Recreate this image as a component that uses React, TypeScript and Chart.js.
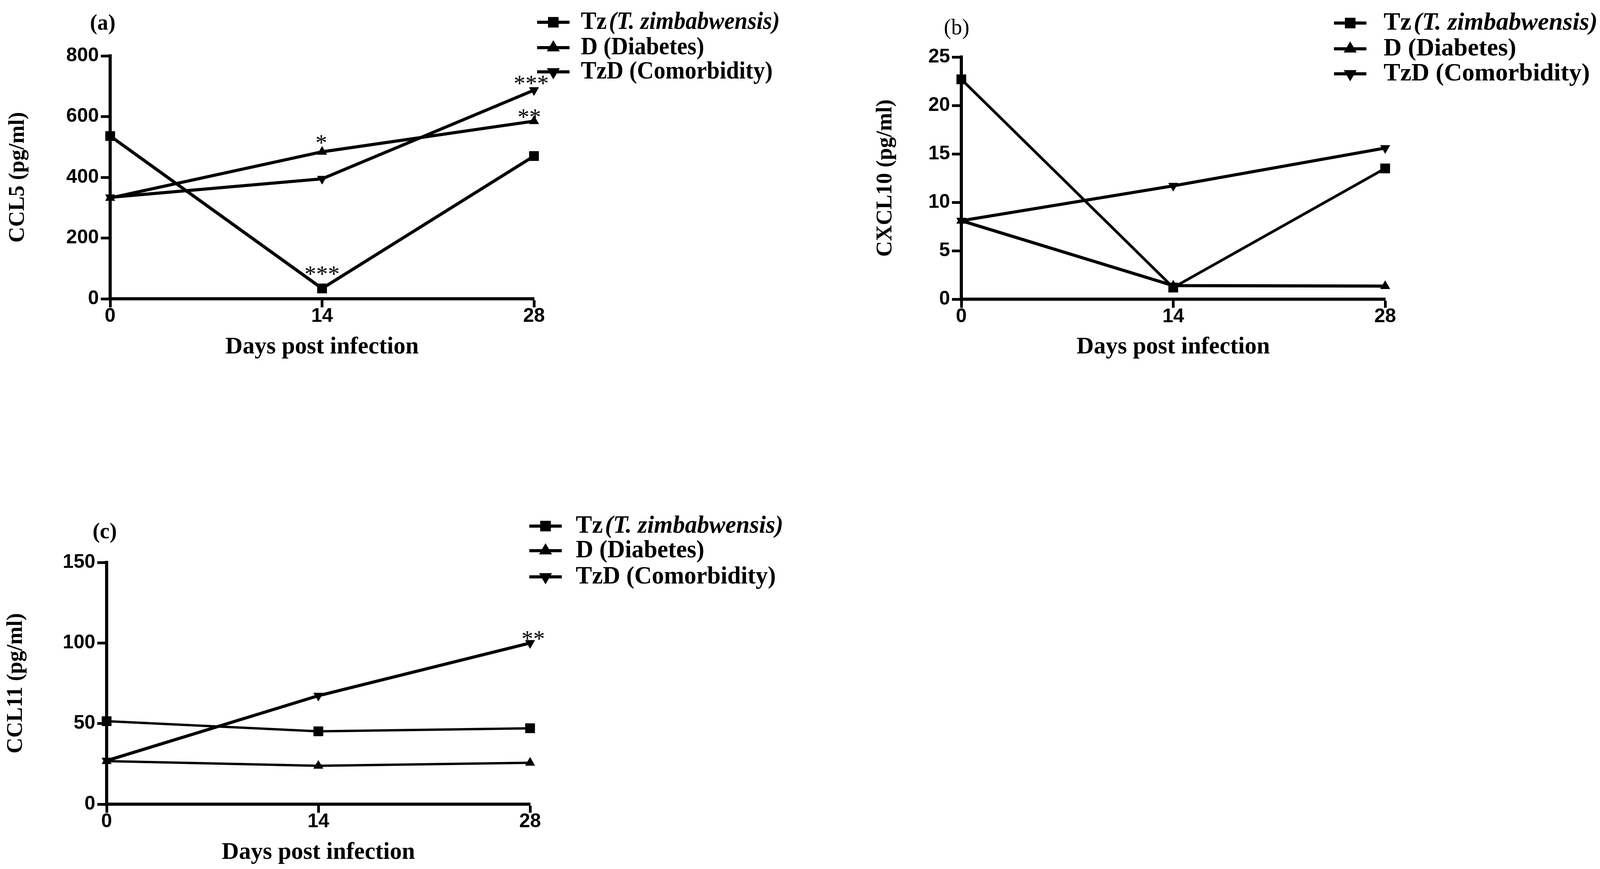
import React, { useEffect, useRef } from 'react';
import { Chart, registerables } from 'chart.js';
import { drawPoint } from 'chart.js/helpers';

Chart.register(...registerables);

// ---------------- data ----------------
const DAYS = [0, 14, 28];
const X_TICKS = [0, 14, 28];
const SERIES_NAMES = ['Tz', 'D', 'TzD'];
const SERIES_DESC = ['(T. zimbabwensis)', '(Diabetes)', '(Comorbidity)'];
const DESC_ITALIC = [true, false, false];
const X_TITLE = 'Days post infection';

const CCL5_TZ = [536, 34, 470];
const CCL5_D = [332, 484, 585];
const CCL5_TZD = [334, 395, 687];
const CCL5_TICKS = [0, 200, 400, 600, 800];

const CXCL10_TZ = [22.7, 1.2, 13.5];
const CXCL10_D = [8.1, 1.4, 1.35];
const CXCL10_TZD = [8.1, 11.7, 15.6];
const CXCL10_TICKS = [0, 5, 10, 15, 20, 25];

const CCL11_TZ = [51.5, 45.2, 47.1];
const CCL11_D = [26.7, 23.8, 25.7];
const CCL11_TZD = [27, 67.3, 100];
const CCL11_TICKS = [0, 50, 100, 150];

// significance marks: series index, point index, text
const CCL5_STARS = [
  { series: 1, index: 1, text: '*' },
  { series: 0, index: 1, text: '***' },
  { series: 2, index: 2, text: '***' },
  { series: 1, index: 2, text: '**' },
];
const CXCL10_STARS: { series: number; index: number; text: string }[] = [];
const CCL11_STARS = [{ series: 2, index: 2, text: '**' }];

// ---------------- styling ----------------
const POINT_STYLES = ['rect', 'triangle', 'triangle'];
const POINT_ROT = [0, 0, 180];
const POINT_RADIUS = [17, 14, 14];
const SERIF = '"Liberation Serif", "Times New Roman", serif';
const SANS = '"Liberation Sans", Arial, sans-serif';

type Panel = {
  id: string;
  left: number; top: number; width: number; height: number;
  area: { left: number; right: number; top: number; bottom: number };
  yTitle: string; yTitleCenter: number;
  series: number[][]; yTicks: number[];
  label: string; labelX: number; labelY: number; labelBold: boolean;
  legLineX: number; legTextX: number; legRows: number[]; legScaleX: number;
  xTitleMid: number;
  lineWidths: number[];
  stars: { series: number; index: number; text: string }[];
  starOffsets: { dx: number; dy: number }[];
};

const PANELS: Panel[] = [
  {
    id: 'a', left: 0, top: 0, width: 2200, height: 1000,
    area: { left: 282, right: 1367, top: 143, bottom: 765 },
    yTitle: 'CCL5 (pg/ml)', yTitleCenter: 47,
    series: [CCL5_TZ, CCL5_D, CCL5_TZD], yTicks: CCL5_TICKS,
    label: '(a)', labelX: 263, labelY: 62, labelBold: true,
    legLineX: 1375, legTextX: 1487, legRows: [57, 122, 184], legScaleX: 0.93,
    xTitleMid: 889,
    lineWidths: [8, 8, 8],
    stars: CCL5_STARS,
    starOffsets: [{ dx: -2, dy: 30 }, { dx: 0, dy: 44 }, { dx: -7, dy: 25 }, { dx: -12, dy: 18 }],
  },
  {
    id: 'b', left: 2200, top: 0, width: 1970, height: 1000,
    area: { left: 261, right: 1346, top: 146, bottom: 766 },
    yTitle: 'CXCL10 (pg/ml)', yTitleCenter: 68,
    series: [CXCL10_TZ, CXCL10_D, CXCL10_TZD], yTicks: CXCL10_TICKS,
    label: '(b)', labelX: 249, labelY: 73, labelBold: false,
    legLineX: 1215, legTextX: 1342, legRows: [59, 125, 189], legScaleX: 1.0,
    xTitleMid: 889,
    lineWidths: [7, 8, 8],
    stars: CXCL10_STARS,
    starOffsets: [],
  },
  {
    id: 'c', left: 0, top: 1200, width: 2200, height: 1025,
    area: { left: 273, right: 1357, top: 240, bottom: 859 },
    yTitle: 'CCL11 (pg/ml)', yTitleCenter: 42,
    series: [CCL11_TZ, CCL11_D, CCL11_TZD], yTicks: CCL11_TICKS,
    label: '(c)', labelX: 268, labelY: 164, labelBold: true,
    legLineX: 1355, legTextX: 1474, legRows: [147, 210, 277], legScaleX: 0.97,
    xTitleMid: 983,
    lineWidths: [6, 6, 8],
    stars: CCL11_STARS,
    starOffsets: [{ dx: 8, dy: 18 }],
  },
];

const decorPlugin = {
  id: 'decor',
  afterDraw(chart: any, _args: any, opts: any) {
    const p: Panel = opts.panel;
    if (!p) return;
    const ctx: CanvasRenderingContext2D = chart.ctx;
    ctx.save();
    ctx.fillStyle = '#000';
    ctx.strokeStyle = '#000';

    // panel label
    ctx.font = `${p.labelBold ? 'bold ' : ''}56px ${SERIF}`;
    ctx.textAlign = 'center';
    ctx.textBaseline = 'middle';
    ctx.fillText(p.label, p.labelX, p.labelY);

    // legend
    const lineLen = 83;
    for (let k = 0; k < 3; k++) {
      const y = p.legRows[k];
      ctx.lineWidth = 8;
      ctx.beginPath();
      ctx.moveTo(p.legLineX, y);
      ctx.lineTo(p.legLineX + lineLen, y);
      ctx.stroke();
      drawPoint(ctx, {
        pointStyle: POINT_STYLES[k] as any,
        rotation: POINT_ROT[k],
        radius: POINT_RADIUS[k] * 0.8,
        borderWidth: 1,
      } as any, p.legLineX + lineLen / 2, y);

      ctx.save();
      ctx.translate(p.legTextX, y);
      ctx.scale(p.legScaleX, 1);
      ctx.textAlign = 'left';
      ctx.textBaseline = 'middle';
      ctx.font = `bold 64px ${SERIF}`;
      ctx.fillText(SERIES_NAMES[k], 0, 0);
      const w = ctx.measureText(SERIES_NAMES[k]).width + (DESC_ITALIC[k] ? 6 : 16);
      ctx.font = `${DESC_ITALIC[k] ? 'italic ' : ''}bold 64px ${SERIF}`;
      ctx.fillText(SERIES_DESC[k], w, 0);
      ctx.restore();
    }

    // significance stars
    ctx.font = `60px ${SERIF}`;
    ctx.textAlign = 'center';
    ctx.textBaseline = 'middle';
    p.stars.forEach((s, i) => {
      const meta = chart.getDatasetMeta(s.series);
      const pt = meta.data[s.index];
      const off = p.starOffsets[i] || { dx: 0, dy: 25 };
      ctx.fillText(s.text, pt.x + off.dx, pt.y - off.dy + 11);
    });
    ctx.restore();
  },
};

function PanelChart({ p }: { p: Panel }) {
  const ref = useRef<HTMLCanvasElement | null>(null);
  useEffect(() => {
    if (!ref.current) return;
    const datasets = p.series.map((vals, k) => ({
      label: SERIES_NAMES[k],
      data: DAYS.map((d, i) => ({ x: d, y: vals[i] })),
      borderColor: '#000',
      backgroundColor: '#000',
      borderWidth: p.lineWidths[k],
      pointStyle: POINT_STYLES[k] as any,
      pointRotation: POINT_ROT[k],
      pointRadius: POINT_RADIUS[k],
      pointBorderWidth: 1,
      pointBackgroundColor: '#000',
      pointBorderColor: '#000',
      tension: 0,
      fill: false,
      clip: false as any,
    }));
    const yMax = p.yTicks[p.yTicks.length - 1];
    const xHeight = p.height - p.area.bottom;
    const chart = new Chart(ref.current, {
      type: 'line',
      data: { datasets },
      plugins: [decorPlugin],
      options: {
        responsive: false,
        animation: false,
        devicePixelRatio: 1,
        layout: { padding: { left: 0, top: p.area.top, right: p.width - p.area.right, bottom: 0 } },
        plugins: {
          legend: { display: false },
          tooltip: { enabled: false },
          decor: { panel: p },
        } as any,
        scales: {
          x: {
            type: 'linear',
            min: 0,
            max: 28,
            afterBuildTicks: (s: any) => { s.ticks = X_TICKS.map((v) => ({ value: v })); },
            afterFit: (s: any) => { s.height = xHeight; },
            grid: { display: true, drawOnChartArea: false, drawTicks: true, tickLength: 22, tickWidth: 7, tickColor: '#000', color: '#000' },
            border: { display: true, color: '#000', width: 8 },
            ticks: { color: '#000', font: { family: SANS, weight: 'bold', size: 50 }, padding: -7, maxRotation: 0, autoSkip: false },
            title: {
              display: true, text: X_TITLE, color: '#000',
              font: { family: SERIF, weight: 'bold', size: 61, lineHeight: 1 },
              padding: { top: 0, bottom: Math.max(0, p.height - p.xTitleMid - 30.5) },
            },
          },
          y: {
            type: 'linear',
            min: 0,
            max: yMax,
            afterBuildTicks: (s: any) => { s.ticks = p.yTicks.map((v) => ({ value: v })); },
            afterFit: (s: any) => { s.width = p.area.left; },
            grid: { display: true, drawOnChartArea: false, drawTicks: true, tickLength: 24, tickWidth: 7, tickColor: '#000', color: '#000' },
            border: { display: true, color: '#000', width: 8 },
            ticks: { color: '#000', font: { family: SANS, weight: 'bold', size: 50 }, padding: 5, autoSkip: false },
            title: {
              display: true, text: p.yTitle, color: '#000',
              font: { family: SERIF, weight: 'bold', size: 56, lineHeight: 1 },
              padding: { top: p.yTitleCenter - 28, bottom: 0 },
            },
          },
        },
      } as any,
    });
    return () => chart.destroy();
  }, [p]);
  return (
    <canvas
      ref={ref}
      width={p.width}
      height={p.height}
      style={{ position: 'absolute', left: p.left, top: p.top, width: p.width, height: p.height }}
    />
  );
}

export default function App() {
  return (
    <div style={{ position: 'absolute', left: 0, top: 0, width: 4170, height: 2225, background: '#fff', overflow: 'hidden' }}>
      {PANELS.map((p) => (
        <PanelChart key={p.id} p={p} />
      ))}
    </div>
  );
}
